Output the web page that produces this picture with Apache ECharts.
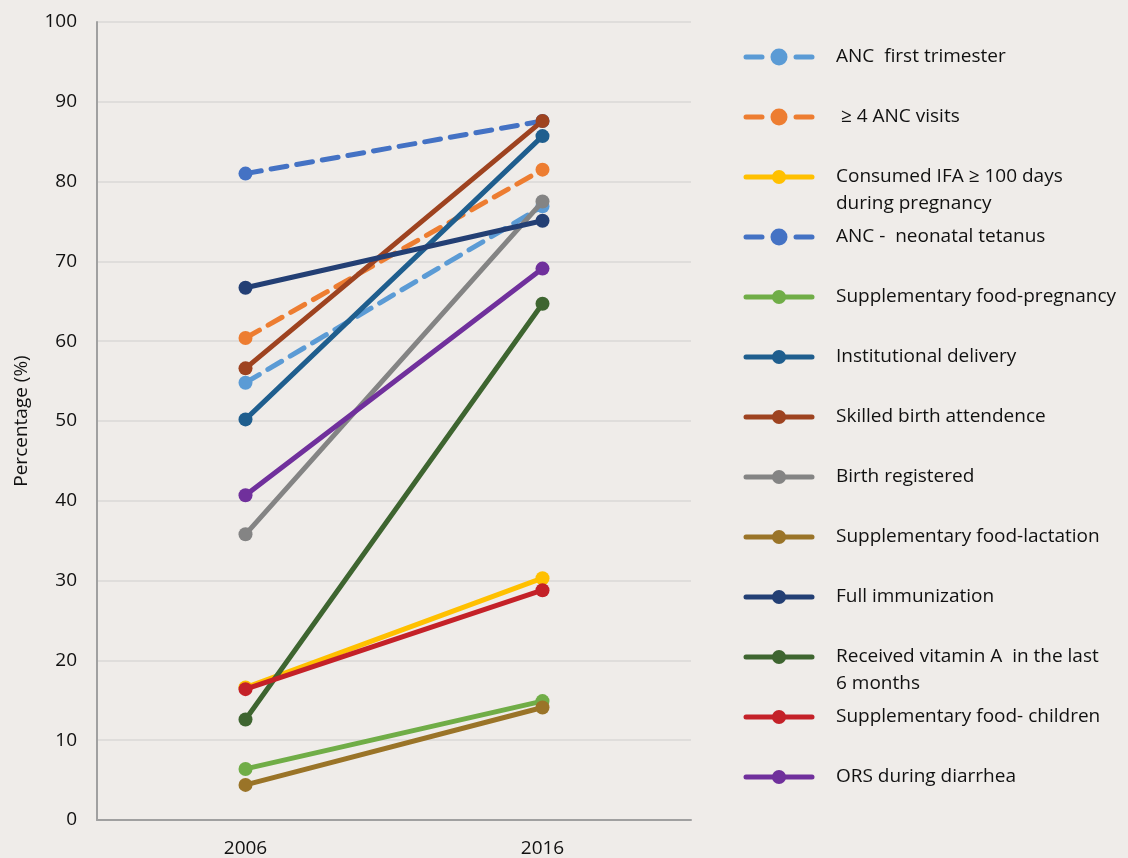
<!DOCTYPE html>
<html>
<head>
<meta charset="utf-8">
<style>
  html, body { margin: 0; padding: 0; background: #EFECE9; }
  #chart { width: 1128px; height: 858px; }
</style>
<script src="https://cdn.jsdelivr.net/npm/echarts@6/dist/echarts.min.js"></script>
</head>
<body>
<div id="chart"></div>
<script>
// Survey years on the x axis
const years = ['2006', '2016'];

// Indicator names as shown in the legend ("\n" breaks long names)
const names = [
  'ANC  first trimester',
  ' ≥ 4 ANC visits',
  'Consumed IFA ≥ 100 days\nduring pregnancy',
  'ANC -  neonatal tetanus',
  'Supplementary food-pregnancy',
  'Institutional delivery',
  'Skilled birth attendence',
  'Birth registered',
  'Supplementary food-lactation',
  'Full immunization',
  'Received vitamin A  in the last\n6 months',
  'Supplementary food- children',
  'ORS during diarrhea'
];

// Percentages for 2006 and 2016, one array per indicator
const ancFirstTrimester   = [54.8, 76.9];
const ancFourVisits       = [60.4, 81.5];
const ifaConsumed         = [16.6, 30.3];
const ancNeonatalTetanus  = [81.0, 87.6];
const suppFoodPregnancy   = [6.4, 14.9];
const institutionalDeliv  = [50.2, 85.7];
const skilledBirth        = [56.6, 87.6];
const birthRegistered     = [35.8, 77.5];
const suppFoodLactation   = [4.4, 14.1];
const fullImmunization    = [66.7, 75.1];
const vitaminA            = [12.6, 64.7];
const suppFoodChildren    = [16.4, 28.8];
const orsDiarrhea         = [40.7, 69.1];

const values = [
  ancFirstTrimester, ancFourVisits, ifaConsumed, ancNeonatalTetanus,
  suppFoodPregnancy, institutionalDeliv, skilledBirth, birthRegistered,
  suppFoodLactation, fullImmunization, vitaminA, suppFoodChildren, orsDiarrhea
];

// Line colours and dash flags per indicator
const colors = [
  '#5B9BD5', '#ED7D31', '#FFC000', '#4472C4', '#70AD47', '#1F5E8E', '#9E4320',
  '#848484', '#9A7428', '#233F74', '#3E6530', '#C42128', '#70309C'
];
const dashed = [true, true, false, true, false, false, false, false, false, false, false, false, false];

// Y axis ticks
const yMin = 0, yMax = 100, yStep = 10;

const FONT = '"Open Sans", "Noto Sans", sans-serif';
const TEXT = '#111111';
const FS = 19;

const series = names.map((n, i) => ({
  name: n.replace('\n', ' '),
  type: 'line',
  data: values[i],
  symbol: 'circle',
  symbolSize: 14,
  color: colors[i],
  lineStyle: {
    width: 5,
    color: colors[i],
    type: dashed[i] ? [16, 10] : 'solid',
    cap: 'round'
  },
  itemStyle: { color: colors[i] },
  emphasis: { disabled: true },
  animation: false,
  z: 2 + i
}));

// Legend drawn as graphic rows: line sample, marker, label
const legendX = 746, legendW = 66, legendTop = 57, legendStep = 60;
const graphic = [];
names.forEach((n, i) => {
  const y = legendTop + legendStep * i;
  const cx = legendX + legendW / 2;
  if (dashed[i]) {
    graphic.push({ type: 'line', shape: { x1: legendX, y1: y, x2: legendX + 16, y2: y },
      style: { stroke: colors[i], lineWidth: 5, lineCap: 'round' } });
    graphic.push({ type: 'line', shape: { x1: legendX + legendW - 16, y1: y, x2: legendX + legendW, y2: y },
      style: { stroke: colors[i], lineWidth: 5, lineCap: 'round' } });
    graphic.push({ type: 'circle', shape: { cx: cx, cy: y, r: 8.5 }, style: { fill: colors[i] } });
  } else {
    graphic.push({ type: 'line', shape: { x1: legendX, y1: y, x2: legendX + legendW, y2: y },
      style: { stroke: colors[i], lineWidth: 5, lineCap: 'round' } });
    graphic.push({ type: 'circle', shape: { cx: cx, cy: y, r: 7 }, style: { fill: colors[i] } });
  }
  graphic.push({
    type: 'text', x: 836, y: y - 13.5,
    style: {
      text: n, fill: TEXT, font: FS + 'px ' + FONT, lineHeight: 27,
      textVerticalAlign: 'top', verticalAlign: 'top'
    }
  });
});

const chart = echarts.init(document.getElementById('chart'), null, { renderer: 'canvas' });
chart.setOption({
  backgroundColor: '#EFECE9',
  animation: false,
  grid: { left: 97, right: 437, top: 22, bottom: 37 },
  xAxis: {
    type: 'category',
    data: years,
    boundaryGap: true,
    axisLine: { lineStyle: { color: '#A0A0A0', width: 2 } },
    axisTick: { show: false },
    axisLabel: { color: TEXT, fontSize: FS, fontFamily: FONT, margin: 19 },
    splitLine: { show: false }
  },
  yAxis: {
    type: 'value',
    min: yMin, max: yMax, interval: yStep,
    name: 'Percentage (%)',
    nameLocation: 'middle',
    nameGap: 66,
    nameRotate: 90,
    nameTextStyle: { color: TEXT, fontSize: FS, fontFamily: FONT },
    axisLine: { show: true, lineStyle: { color: '#A0A0A0', width: 2 } },
    axisTick: { show: false },
    axisLabel: { color: TEXT, fontSize: FS, fontFamily: FONT, margin: 20 },
    splitLine: { lineStyle: { color: '#DAD8D6', width: 1.5 } }
  },
  series: series,
  graphic: graphic
});
</script>
</body>
</html>
